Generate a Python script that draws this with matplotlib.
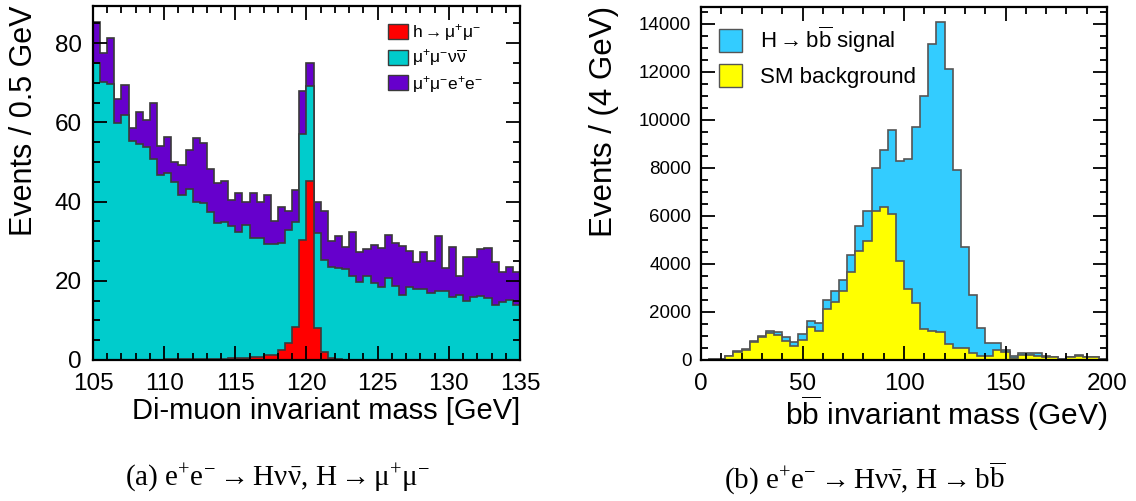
import numpy as np
import matplotlib.pyplot as plt
from matplotlib.patches import Patch
from matplotlib.ticker import MultipleLocator

plt.rcParams['font.family'] = ['Liberation Sans', 'DejaVu Sans']
plt.rcParams['mathtext.fontset'] = 'custom'
plt.rcParams['mathtext.rm'] = 'Liberation Sans'
plt.rcParams['mathtext.it'] = 'Liberation Sans:italic'
plt.rcParams['mathtext.bf'] = 'Liberation Sans:bold'

# di-muon mass, 0.5 GeV bins from 105 to 135 GeV (stacked: signal, then the two backgrounds)
mm_edges = np.arange(105, 135.01, 0.5)
h_mumu = [0.1, 0.1, 0.1, 0.1, 0.1, 0.1, 0.1, 0.1, 0.1, 0.1,
          0.2, 0.2, 0.2, 0.2, 0.2, 0.3, 0.3, 0.3, 0.3, 0.4,
          0.4, 0.5, 0.7, 0.7, 1.2, 1.2, 2.5, 4.4, 8.3, 30.3,
          45.3, 8.0, 2.1, 0.4, 0.2, 0.1, 0.1, 0.1, 0.1, 0.1,
          0.1, 0.1, 0.1, 0.1, 0.1, 0.1, 0.1, 0.1, 0.1, 0.1,
          0.1, 0.1, 0.1, 0.1, 0.1, 0.1, 0.1, 0.1, 0.1, 0.1]
mumununu = [74.8, 70.0, 69.6, 59.7, 61.8, 55.1, 54.5, 53.8, 50.6, 46.5,
            47.0, 44.7, 41.5, 42.9, 39.8, 39.4, 37.2, 34.2, 34.6, 33.5,
            31.8, 33.6, 30.0, 30.2, 28.1, 28.1, 27.0, 28.4, 26.6, 26.8,
            23.9, 24.1, 23.2, 23.1, 23.0, 22.8, 21.1, 19.7, 21.0, 19.3,
            18.3, 20.5, 18.6, 16.3, 18.4, 17.8, 17.8, 16.7, 17.2, 17.2,
            15.7, 16.3, 14.8, 15.9, 16.1, 15.6, 13.8, 14.6, 15.1, 13.8]
mumuee = [10.4, 7.5, 11.6, 6.1, 7.6, 3.5, 8.0, 6.7, 14.1, 7.5,
          9.2, 5.0, 7.6, 10.0, 16.0, 15.0, 10.8, 10.3, 10.2, 6.5,
          9.9, 5.9, 11.4, 9.1, 12.4, 5.9, 9.1, 4.9, 8.0, 10.9,
          5.9, 7.9, 12.4, 6.5, 8.1, 5.7, 11.0, 7.4, 6.9, 9.7,
          9.8, 11.0, 10.8, 12.4, 9.1, 6.8, 9.3, 8.2, 14.0, 6.0,
          12.8, 4.7, 11.2, 10.1, 11.8, 12.5, 10.9, 7.6, 8.4, 8.4]

# b-bbar mass, 4 GeV bins from 0 to 200 GeV (signal stacked on background)
bb_edges = np.arange(0, 200.1, 4)
sm_bkg = [15, 45, 50, 150, 350, 430, 760, 960, 1140, 1040,
          790, 585, 830, 1385, 1220, 2140, 2400, 2870, 3680, 4530,
          4940, 6200, 6380, 6070, 4120, 2950, 2370, 1310, 1215, 1160,
          665, 510, 485, 280, 170, 170, 415, 345, 70, 210,
          210, 170, 140, 110, 40, 135, 165, 110, 110, 40]
h_bb = [5, 10, 10, 16, 25, 25, 30, 35, 75, 135,
        150, 175, 250, 245, 300, 375, 460, 480, 680, 1040,
        1260, 1780, 2360, 3490, 4180, 5430, 7330, 9690, 11935, 12900,
        11435, 7420, 4235, 2440, 1170, 530, 275, 70, 100, 70,
        70, 130, 30, 30, 5, 5, 55, 30, 30, 5]

fig = plt.figure(figsize=(11.36, 5.01), dpi=100)
W, H = 1136, 501
ax1 = fig.add_axes([93 / W, 1 - 360 / H, 427 / W, 354 / H])
ax2 = fig.add_axes([701 / W, 1 - 360 / H, 406 / W, 353 / H])

# left: draw cumulative stacks from the top down
edge1 = '#3a3a3a'
s_red = np.array(h_mumu)
s_cyan = s_red + np.array(mumununu)
s_purple = s_cyan + np.array(mumuee)
ax1.stairs(s_purple, mm_edges, fill=True, facecolor='#6600cc', edgecolor=edge1, lw=1.2)
ax1.stairs(s_cyan, mm_edges, fill=True, facecolor='#00cccc', edgecolor=edge1, lw=1.2)
ax1.stairs(s_red, mm_edges, fill=True, facecolor='#ff0000', edgecolor=edge1, lw=1.2)
ax1.set_xlim(105, 135)
ax1.set_ylim(0, 89.4)
ax1.xaxis.set_major_locator(MultipleLocator(5))
ax1.xaxis.set_minor_locator(MultipleLocator(1))
ax1.yaxis.set_major_locator(MultipleLocator(20))
ax1.yaxis.set_minor_locator(MultipleLocator(5))

h1 = [Patch(facecolor='#ff0000', edgecolor=edge1),
      Patch(facecolor='#00cccc', edgecolor=edge1),
      Patch(facecolor='#6600cc', edgecolor=edge1)]
ax1.legend(h1, [r'h$\rightarrow\mathrm{\mu^{+}\mu^{-}}$',
                r'$\mathrm{\mu^{+}\mu^{-}\nu\overline{\nu}}$',
                r'$\mathrm{\mu^{+}\mu^{-}e^{+}e^{-}}$'],
           loc='upper left', bbox_to_anchor=(0.69, 0.955), frameon=False,
           fontsize=12.5, borderpad=0, borderaxespad=0, handlelength=1.2,
           handleheight=0.95, handletextpad=0.2, labelspacing=0.3)

# right: background first, signal on top
edge2 = '#555555'
s_bkg = np.array(sm_bkg)
s_tot = s_bkg + np.array(h_bb)
ax2.stairs(s_tot, bb_edges, fill=True, facecolor='#33ccff', edgecolor=edge2, lw=1.2)
ax2.stairs(s_bkg, bb_edges, fill=True, facecolor='#ffff00', edgecolor=edge2, lw=1.2)
ax2.set_xlim(0, 200)
ax2.set_ylim(0, 14700)
ax2.xaxis.set_major_locator(MultipleLocator(50))
ax2.xaxis.set_minor_locator(MultipleLocator(10))
ax2.yaxis.set_major_locator(MultipleLocator(2000))
ax2.yaxis.set_minor_locator(MultipleLocator(500))

h2 = [Patch(facecolor='#33ccff', edgecolor=edge2),
      Patch(facecolor='#ffff00', edgecolor=edge2)]
ax2.legend(h2, [r'H$\rightarrow\mathrm{b\overline{b}}$ signal', 'SM background'],
           loc='upper left', bbox_to_anchor=(0.044, 0.95), frameon=False,
           fontsize=16, borderpad=0, borderaxespad=0, handlelength=1.05,
           handleheight=1.2, handletextpad=0.8, labelspacing=0.4)

for ax in (ax1, ax2):
    ax.tick_params(which='both', direction='in', top=True, right=True, width=1.3)
    ax.tick_params(which='major', length=10)
    ax.tick_params(which='minor', length=5)
    for sp in ax.spines.values():
        sp.set_linewidth(1.6)
ax1.tick_params(axis='both', labelsize=17.5)
ax1.tick_params(axis='x', pad=9)
ax1.tick_params(axis='y', pad=8)
ax2.tick_params(axis='x', labelsize=17.5, pad=9)
ax2.tick_params(axis='y', labelsize=13.5, pad=7)

# axis titles, right/top aligned
fig.text(520 / W, 1 - 411 / H, 'Di-muon invariant mass [GeV]', fontsize=21,
         ha='right', va='center')
fig.text(24 / W, 1 - 6 / H, 'Events / 0.5 GeV', fontsize=22, rotation=90,
         ha='center', va='top')
fig.text(1107 / W, 1 - 413 / H, r'$\mathrm{b\overline{b}}$ invariant mass (GeV)',
         fontsize=21.5, ha='right', va='center')
fig.text(604 / W, 1 - 6 / H, 'Events / (4 GeV)', fontsize=22.5, rotation=90,
         ha='center', va='top')

# sub-figure captions, upright serif letters
cap = dict(fontsize=21, family='Liberation Serif', math_fontfamily='stix',
           ha='center', va='center')
fig.text(278 / W, 1 - 478 / H,
         r'(a) $\mathregular{e^{+}e^{-}\rightarrow H\nu\bar{\nu},\,H\rightarrow\mu^{+}\mu^{-}}$',
         **cap)
fig.text(865 / W, 1 - 478 / H,
         r'(b) $\mathregular{e^{+}e^{-}\rightarrow H\nu\bar{\nu},\,H\rightarrow b\overline{b}}$',
         **cap)

fig.savefig('out.png', dpi=100)
